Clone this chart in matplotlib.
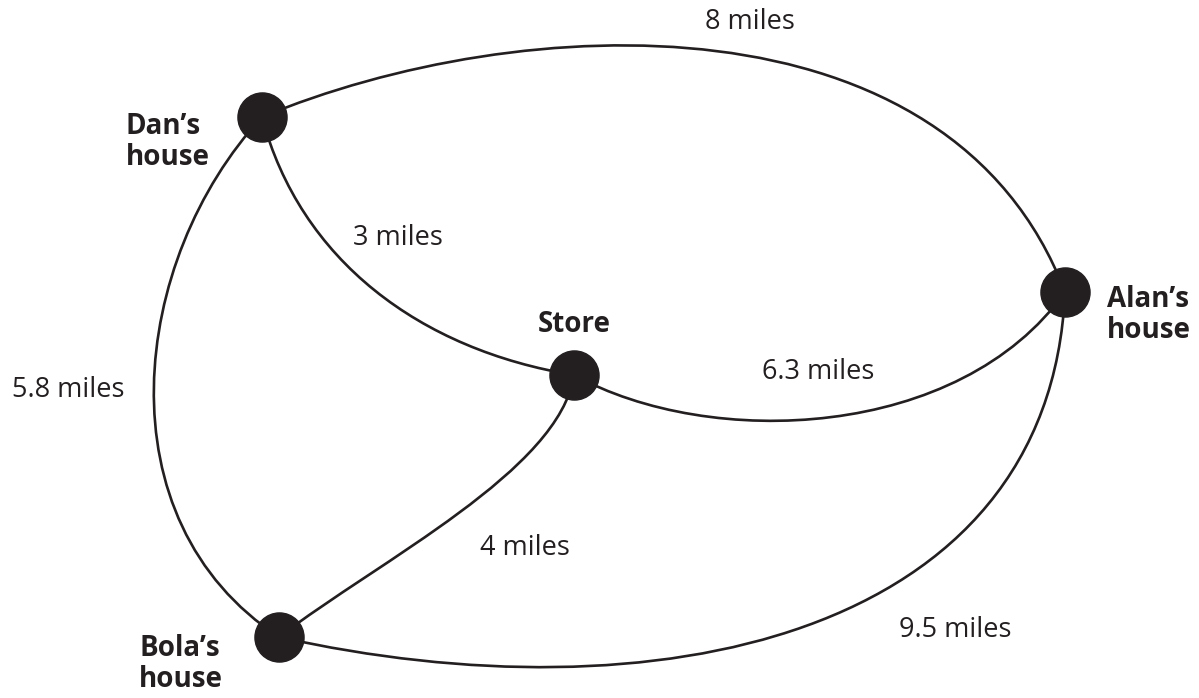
import matplotlib.pyplot as plt
from matplotlib.path import Path
from matplotlib.patches import PathPatch

plt.rcParams['font.family'] = ['Open Sans', 'DejaVu Sans']

# ---- data ----
places = ["Dan's house", "Alan's house", "Store", "Bola's house"]
place_labels = ["Dan\u2019s\nhouse", "Alan\u2019s\nhouse", "Store", "Bola\u2019s\nhouse"]
edges = [("Dan's house", "Alan's house"), ("Dan's house", "Store"),
         ("Store", "Alan's house"), ("Dan's house", "Bola's house"),
         ("Store", "Bola's house"), ("Bola's house", "Alan's house")]
miles = [8, 3, 6.3, 5.8, 4, 9.5]

# ---- layout (pixel coords, y downwards) ----
pos = {"Dan's house": (262, 117), "Alan's house": (1065, 292),
       "Store": (574, 375), "Bola's house": (279, 637)}
ctrl = [((520, 10), (950, -10)),
        ((300, 260), (420, 350)),
        ((710, 450), (960, 440)),
        ((130, 260), (100, 520)),
        ((560, 470), (380, 560)),
        ((650, 720), (1050, 640))]
edge_text_pos = [(750, 22), (398, 238), (818, 372), (68, 390), (525, 548), (955, 630)]
node_text = [(126, 142, 'left'), (1107, 315, 'left'), (574, 325, 'center'), (139, 664, 'left')]

ink = '#231f20'

fig = plt.figure(figsize=(11.99, 6.98), dpi=100)
ax = fig.add_axes([0, 0, 1, 1])
ax.set_xlim(0, 1199)
ax.set_ylim(698, 0)
ax.axis('off')

for (a, b), (c1, c2), m, (tx, ty) in zip(edges, ctrl, miles, edge_text_pos):
    path = Path([pos[a], c1, c2, pos[b]],
                [Path.MOVETO, Path.CURVE4, Path.CURVE4, Path.CURVE4])
    ax.add_patch(PathPatch(path, facecolor='none', edgecolor=ink, lw=1.9, zorder=1))
    ax.text(tx, ty, f"{m:g} miles", fontsize=19.5, color=ink, ha='center', va='center')

xs = [pos[p][0] for p in places]
ys = [pos[p][1] for p in places]
ax.scatter(xs, ys, s=1250, color=ink, zorder=3)

for lab, (tx, ty, ha) in zip(place_labels, node_text):
    ax.text(tx, ty, lab, fontsize=20, fontweight='bold', color=ink,
            ha=ha, va='center', linespacing=1.05)

plt.savefig('out.png', dpi=100)
